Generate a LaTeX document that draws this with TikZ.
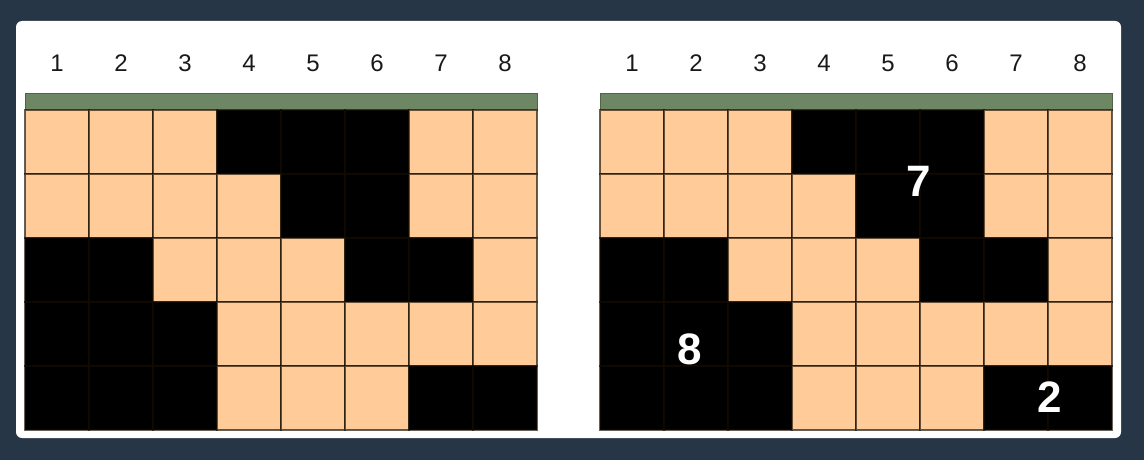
\documentclass[tikz,border=0pt]{standalone}
\usepackage{fontspec}
\setmainfont{Liberation Sans}
\definecolor{bgdark}{RGB}{39,54,71}
\definecolor{cellorange}{RGB}{255,204,153}
\definecolor{cellline}{RGB}{20,12,0}
\definecolor{barfill}{RGB}{109,135,100}
\definecolor{barline}{RGB}{80,100,72}
\definecolor{labeltext}{RGB}{25,25,25}
\tikzset{
  cellbox/.style={rectangle, inner sep=0pt, minimum width=64pt, minimum height=64pt,
    draw=cellline, draw opacity=0.65, line width=1.1pt},
  orangecell/.style={cellbox, fill=cellorange},
  blackcell/.style={cellbox, fill=black},
  barbox/.style={rectangle, inner sep=0pt, minimum width=512pt, minimum height=16pt,
    fill=barfill, draw=barline, line width=1pt},
  collabel/.style={font=\fontsize{24}{24}\selectfont, text=labeltext, anchor=base, inner sep=0pt},
  bignum/.style={font=\fontsize{44}{44}\selectfont\bfseries, text=white, anchor=base, inner sep=0pt}
}
\begin{document}
\begin{tikzpicture}[x=1pt,y=-1pt]
\useasboundingbox (0,0) rectangle (1144,460);
\fill[bgdark] (0,0) rectangle (1144,460);
\fill[white, rounded corners=6pt] (16,21) rectangle (1121,438);
\def\cells{{0,0,0,1,1,1,0,0, 0,0,0,0,1,1,0,0, 1,1,0,0,0,1,1,0, 1,1,1,0,0,0,0,0, 1,1,1,0,0,0,1,1}}
\foreach \g/\ox in {L/25, R/600} {
  \node[barbox] (\g-bar) at (\ox+256,102) {};
  \foreach \c in {1,...,8} {
    \node[collabel] (\g-lab-\c) at (\ox+64*\c-32,72) {\c};
  }
  \foreach \r in {1,...,5} {
    \foreach \c in {1,...,8} {
      \pgfmathtruncatemacro\v{\cells[(\r-1)*8+\c-1]}
      \ifnum\v=1
        \node[blackcell] (\g-\r-\c) at (\ox+64*\c-32,110+64*\r-32) {};
      \else
        \node[orangecell] (\g-\r-\c) at (\ox+64*\c-32,110+64*\r-32) {};
      \fi
    }
  }
}
\node[bignum] (n7) at (919,196) {7};
\node[bignum] (n8) at (690,364) {8};
\node[bignum] (n2) at (1050,412) {2};
\end{tikzpicture}
\end{document}
